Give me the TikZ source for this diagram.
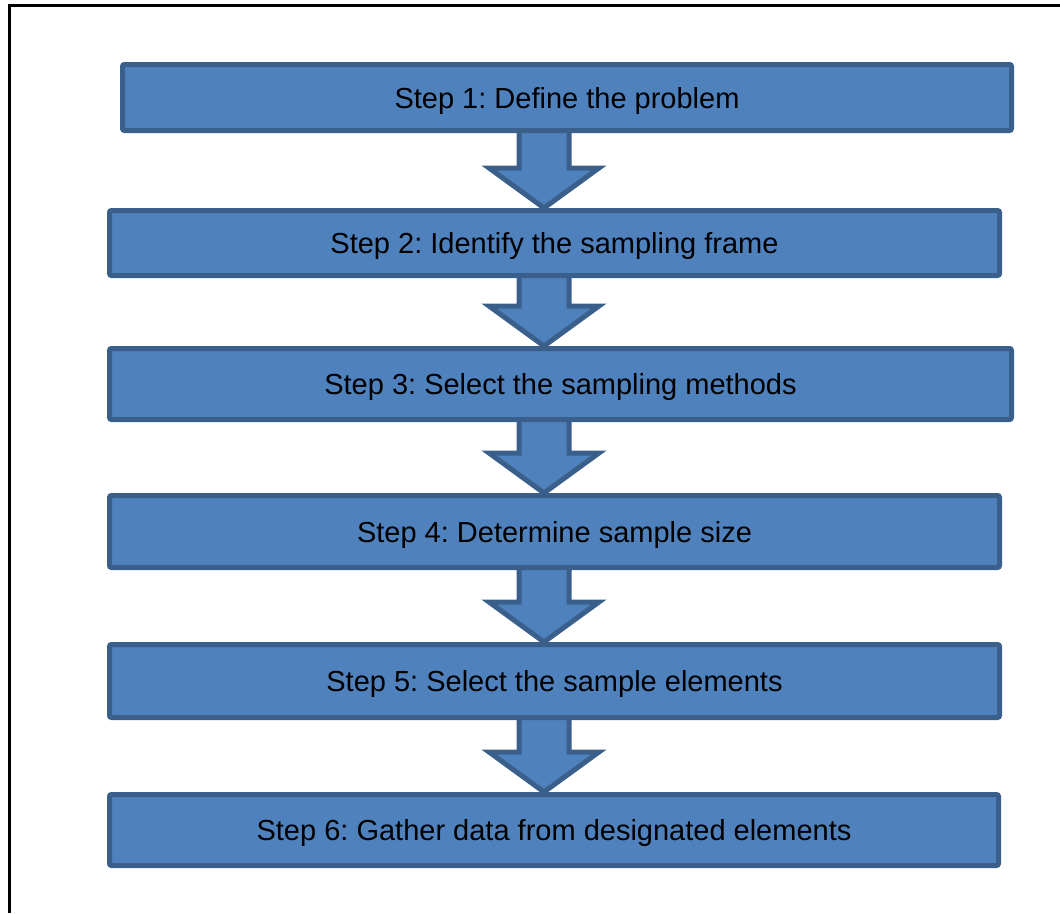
\documentclass[tikz,border=0pt]{standalone}
\usepackage{fontspec}
\setmainfont{Liberation Sans}
\usetikzlibrary{calc,backgrounds}
\definecolor{boxfill}{HTML}{4F81BD}
\definecolor{boxline}{HTML}{3A5F8B}
\frenchspacing
\begin{document}
\begin{tikzpicture}[x=1pt,y=-1pt,
  stepbox/.style={draw=boxline,fill=boxfill,line width=5pt,rounded corners=2pt,
    inner sep=0pt,text depth=0pt,font=\fontsize{29}{34}\selectfont,text=black},
  blockarrow/.style={draw=boxline,fill=boxfill,line width=5pt,line join=miter}]
\useasboundingbox (0,0) rectangle (1060,913);
\draw[line width=3pt,black] (9.5,913) -- (9.5,5.5) -- (1060,5.5);
\coordinate (ax) at (544,0);
\path
  (567,97.5)    node[stepbox,minimum width=889pt,minimum height=66pt] (b1) {Step 1: Define the problem}
  (554.5,243)   node[stepbox,minimum width=890pt,minimum height=65pt] (b2) {Step 2: Identify the sampling frame}
  (560.5,384)   node[stepbox,minimum width=902pt,minimum height=71pt] (b3) {Step 3: Select the sampling methods}
  (554.5,531.5) node[stepbox,minimum width=890pt,minimum height=72pt] (b4) {Step 4: Determine sample size}
  (554.5,681)   node[stepbox,minimum width=890pt,minimum height=73pt] (b5) {Step 5: Select the sample elements}
  (554,830)     node[stepbox,minimum width=889pt,minimum height=71pt] (b6) {Step 6: Gather data from designated elements};
\begin{scope}[on background layer]
\foreach \a/\b in {b1/b2,b2/b3,b3/b4,b4/b5,b5/b6}{
  \draw[blockarrow]
    ($(ax |- \a.south)+(-25,-5)$) -- ($(ax |- \b.north)+(-25,-40)$)
    -- ($(ax |- \b.north)+(-55,-40)$) -- (ax |- \b.north)
    -- ($(ax |- \b.north)+(55,-40)$) -- ($(ax |- \b.north)+(25,-40)$)
    -- ($(ax |- \a.south)+(25,-5)$) -- cycle;
}
\end{scope}
\end{tikzpicture}
\end{document}
